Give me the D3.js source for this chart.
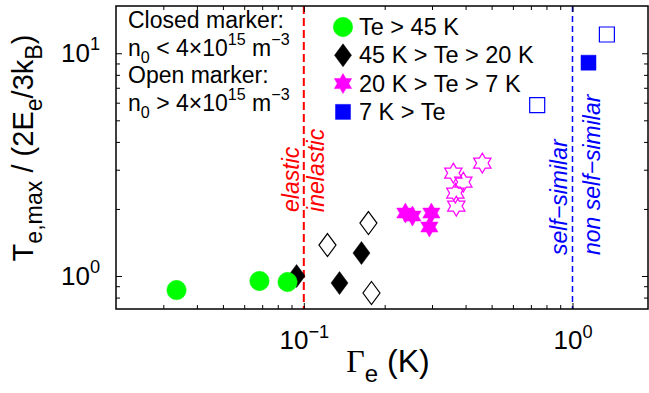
<!DOCTYPE html>
<html>
<head>
<meta charset="utf-8">
<script src="https://cdn.jsdelivr.net/npm/d3@7"></script>
<style>
  body { margin: 0; background: #fff; }
  svg { font-family: "Liberation Sans", Arial, sans-serif; }
</style>
</head>
<body>
<svg id="chart" width="649" height="393"></svg>
<script>
// legend groups
var groupNames = ["Te > 45 K", "45 K > Te > 20 K", "20 K > Te > 7 K", "7 K > Te"];
var groupColors = ["#00ff00", "#000000", "#ff00ff", "#0000ff"];
var groupShapes = ["circle", "diamond", "hexagram", "square"];

// Gamma_e (K), Te,max / (2Ee/3kB), closed marker = 1, open marker = 0
var hotGamma = [0.0336, 0.0684, 0.0870];
var hotRatio = [0.865, 0.950, 0.940];
var hotClosed = [1, 1, 1];

var warmGamma = [0.0940, 0.1358, 0.1639, 0.1225, 0.1786, 0.1740];
var warmRatio = [1.000, 0.930, 1.268, 1.377, 0.839, 1.729];
var warmClosed = [1, 1, 1, 0, 0, 0];

var coolGamma = [0.2388, 0.2537, 0.2984, 0.2933, 0.3602, 0.3924, 0.3664, 0.3694, 0.4617];
var coolRatio = [1.917, 1.858, 1.917, 1.659, 2.897, 2.640, 2.356, 2.060, 3.212];
var coolClosed = [1, 1, 1, 1, 0, 0, 0, 0, 0];

var coldGamma = [0.739, 1.147, 1.343];
var coldRatio = [5.846, 9.07, 12.14];
var coldClosed = [0, 1, 0];

var xMajor = [0.1, 1];
var xMinor = [0.03, 0.04, 0.05, 0.06, 0.07, 0.08, 0.09, 0.2, 0.3, 0.4, 0.5, 0.6, 0.7, 0.8, 0.9];
var yMajor = [1, 10];
var yMinor = [0.8, 0.9, 2, 3, 4, 5, 6, 7, 8, 9];

var elasticLimit = 0.1;
var selfSimilarLimit = 1;

var svg = d3.select("#chart");
var pL = 116, pR = 648, pT = 6, pB = 309;

var x = d3.scaleLog().domain([0.02, 1.91]).range([pL, pR]);
var y = d3.scaleLog().domain([0.711, 16.3]).range([pB, pT]);

// text with sub / superscripts (sub/sup scale optional)
function rich(sel, parts, size, scale) {
  scale = scale || 0.7;
  var shift = 0;
  parts.forEach(function(p) {
    var target = p[1] == 1 ? size * 0.32 : p[1] == 2 ? -size * 0.45 : 0;
    var t = sel.append("tspan").text(p[0]);
    if (target - shift != 0) t.attr("dy", target - shift);
    if (p[1]) t.style("font-size", size * scale + "px");
    if (p[2]) t.style("font-family", p[2]);
    shift = target;
  });
}

function markerPath(shape) {
  if (shape == "diamond") {
    return "M0,-11.5L8.5,0L0,11.5L-8.5,0Z";
  }
  if (shape == "square") {
    return "M-7.5,-7.5H7.5V7.5H-7.5Z";
  }
  if (shape == "hexagram") {
    var r = 10, pts = [];
    for (var i = 0; i < 12; i++) {
      var a = -Math.PI / 2 + i * Math.PI / 6;
      var rr = i % 2 == 0 ? r : r / Math.sqrt(3);
      pts.push([rr * Math.cos(a), rr * Math.sin(a)]);
    }
    return "M" + pts.join("L") + "Z";
  }
  return d3.symbol(d3.symbolCircle, Math.PI * 9.7 * 9.7)();
}

// dashed limits
svg.append("line")
  .attr("x1", x(elasticLimit)).attr("x2", x(elasticLimit))
  .attr("y1", pT).attr("y2", pB)
  .attr("stroke", "#ff0000").attr("stroke-width", 2)
  .attr("stroke-dasharray", "8,4");

svg.append("line")
  .attr("x1", x(selfSimilarLimit)).attr("x2", x(selfSimilarLimit))
  .attr("y1", pT).attr("y2", pB)
  .attr("stroke", "#0000ff").attr("stroke-width", 1.5)
  .attr("stroke-dasharray", "6,4");

// axes: inward ticks on all four sides
function ticks(gen, tx, ty, values, size) {
  var g = svg.append("g")
    .attr("transform", "translate(" + tx + "," + ty + ")")
    .call(gen.tickValues(values).tickSize(size).tickFormat(""));
  g.select(".domain").remove();
  g.selectAll("line").attr("stroke", "#000").attr("stroke-width", 1);
  return g;
}
ticks(d3.axisBottom(x), 0, pB, xMinor, -4);
ticks(d3.axisTop(x), 0, pT, xMinor, -4);
ticks(d3.axisTop(x), 0, pT, xMajor, -6);
ticks(d3.axisLeft(y), pL, 0, yMinor, -4);
ticks(d3.axisRight(y), pR, 0, yMinor, -4);
ticks(d3.axisRight(y), pR, 0, yMajor, -6);

var xAxis = svg.append("g")
  .attr("transform", "translate(0," + pB + ")")
  .call(d3.axisBottom(x).tickValues(xMajor).tickSize(-6).tickPadding(22));
var yAxis = svg.append("g")
  .attr("transform", "translate(" + pL + ",0)")
  .call(d3.axisLeft(y).tickValues(yMajor).tickSize(-6).tickPadding(16));

[xAxis, yAxis].forEach(function(g) {
  g.select(".domain").remove();
  g.selectAll("line").attr("stroke", "#000").attr("stroke-width", 1);
  g.selectAll("text")
    .attr("fill", "#000")
    .style("font-family", '"Liberation Sans", Arial, sans-serif')
    .style("font-size", "26px")
    .each(function(d) {
      var s = d3.select(this).text(null);
      var e = Math.round(Math.log10(d));
      rich(s, [["10", 0], [(e < 0 ? "\u2212" : "") + Math.abs(e), 2]], 26);
    });
});

svg.append("rect")
  .attr("x", pL).attr("y", pT)
  .attr("width", pR - pL).attr("height", pB - pT)
  .attr("fill", "none").attr("stroke", "#000").attr("stroke-width", 1.5);

// data
function plot(gammas, ratios, closed, k) {
  svg.append("g").selectAll("path")
    .data(gammas)
    .join("path")
    .attr("transform", function(d, i) { return "translate(" + x(d) + "," + y(ratios[i]) + ")"; })
    .attr("d", markerPath(groupShapes[k]))
    .attr("fill", function(d, i) { return closed[i] ? groupColors[k] : "none"; })
    .attr("stroke", groupColors[k])
    .attr("stroke-width", function(d, i) { return closed[i] ? 0.5 : 1.2; });
}
plot(warmGamma, warmRatio, warmClosed, 1);
plot(hotGamma, hotRatio, hotClosed, 0);
plot(coolGamma, coolRatio, coolClosed, 2);
plot(coldGamma, coldRatio, coldClosed, 3);

// legend
var legend = svg.append("g").attr("transform", "translate(343,27)");
groupNames.forEach(function(name, k) {
  var row = legend.append("g").attr("transform", "translate(0," + (k * 28.3) + ")");
  row.append("path")
    .attr("d", markerPath(groupShapes[k]))
    .attr("fill", groupColors[k]).attr("stroke", groupColors[k]).attr("stroke-width", 0.5);
  row.append("text").attr("x", 16).attr("y", 8)
    .style("font-size", "23.5px").attr("fill", "#000").text(name);
});

// marker note
var notes = [
  [["Closed marker:", 0]],
  [["n", 0], ["0", 1], [" < 4\u00d710", 0], ["15", 2], [" m", 0], ["\u22123", 2]],
  [["Open marker:", 0]],
  [["n", 0], ["0", 1], [" > 4\u00d710", 0], ["15", 2], [" m", 0], ["\u22123", 2]]
];
notes.forEach(function(parts, i) {
  var t = svg.append("text").attr("x", 128).attr("y", 28 + i * 27.5)
    .style("font-size", "23px").attr("fill", "#000");
  rich(t, parts, 23);
});

// region labels
function vlabel(px, val, str, color) {
  svg.append("text")
    .attr("transform", "translate(" + px + "," + y(val) + ") rotate(-90)")
    .style("font-size", "23px").style("font-style", "italic")
    .attr("fill", color).text(str);
}
vlabel(x(elasticLimit) - 5, 1.94, "elastic", "#ff0000");
vlabel(x(elasticLimit) + 20, 1.94, "inelastic", "#ff0000");
vlabel(x(selfSimilarLimit) - 5.5, 1.242, "self\u2212similar", "#0000ff");
vlabel(x(selfSimilarLimit) + 28, 1.242, "non self\u2212similar", "#0000ff");

// axis titles
var xt = svg.append("text")
  .attr("x", 388).attr("y", 372)
  .attr("text-anchor", "middle").style("font-size", "32px").attr("fill", "#000");
rich(xt, [["\u0393", 0, '"Liberation Serif", serif'], ["e", 1], [" (K)", 0]], 32, 0.75);

var yt = svg.append("text")
  .attr("transform", "translate(33,148) rotate(-90)")
  .attr("text-anchor", "middle").style("font-size", "29px").attr("fill", "#000");
rich(yt, [["T", 0], ["e,max", 1], [" / (2E", 0], ["e", 1], ["/3k", 0], ["B", 1], [")", 0]], 29, 0.8);
</script>
</body>
</html>
